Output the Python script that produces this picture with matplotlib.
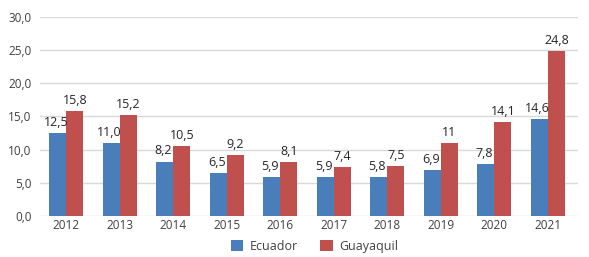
import numpy as np
import matplotlib.pyplot as plt

# Data
years = ['2012', '2013', '2014', '2015', '2016', '2017', '2018', '2019', '2020', '2021']
ecuador = [12.5, 11.0, 8.2, 6.5, 5.9, 5.9, 5.8, 6.9, 7.8, 14.6]
guayaquil = [15.8, 15.2, 10.5, 9.2, 8.1, 7.4, 7.5, 11, 14.1, 24.8]
ecuador_labels = ['12,5', '11,0', '8,2', '6,5', '5,9', '5,9', '5,8', '6,9', '7,8', '14,6']
guayaquil_labels = ['15,8', '15,2', '10,5', '9,2', '8,1', '7,4', '7,5', '11', '14,1', '24,8']
yticks = [0, 5, 10, 15, 20, 25, 30]

plt.rcParams['font.family'] = ['Open Sans', 'DejaVu Sans']

fig = plt.figure(figsize=(5.89, 2.57), dpi=100)
ax = fig.add_axes([0.068, 0.16, 0.913, 0.774])

x = np.arange(len(years))
w = 0.32
b1 = ax.bar(x - w/2, ecuador, w, color='#4a7ebb', label='Ecuador', zorder=3)
b2 = ax.bar(x + w/2, guayaquil, w, color='#c0504d', label='Guayaquil', zorder=3)

for rect, lab in zip(b1, ecuador_labels):
    ax.annotate(lab, (rect.get_x() + rect.get_width()/2 - 0.03, rect.get_height()),
                xytext=(0, 3), textcoords='offset points', ha='center', va='bottom',
                fontsize=9, color='#262626')
for rect, lab in zip(b2, guayaquil_labels):
    ax.annotate(lab, (rect.get_x() + rect.get_width()/2, rect.get_height()),
                xytext=(0, 3), textcoords='offset points', ha='center', va='bottom',
                fontsize=9, color='#262626')

ax.set_ylim(0, 30)
ax.set_xlim(-0.49, 9.56)
ax.set_yticks(yticks)
ax.set_yticklabels([('%.1f' % v).replace('.', ',') for v in yticks])
ax.set_xticks(x)
ax.set_xticklabels(years)
ax.tick_params(axis='both', length=0, labelsize=8.5, colors='#404040')
ax.tick_params(axis='y', pad=6)
ax.tick_params(axis='x', pad=2)
ax.grid(axis='y', color='#d9d9d9', linewidth=1, zorder=0)
for s in ax.spines.values():
    s.set_visible(False)

ax.legend(loc='upper center', bbox_to_anchor=(0.51, -0.065), ncol=2, frameon=False,
          fontsize=9, handlelength=1.0, handleheight=1.0, columnspacing=1.8,
          handletextpad=0.5, labelcolor='#404040')

fig.savefig('out.png', dpi=100)
